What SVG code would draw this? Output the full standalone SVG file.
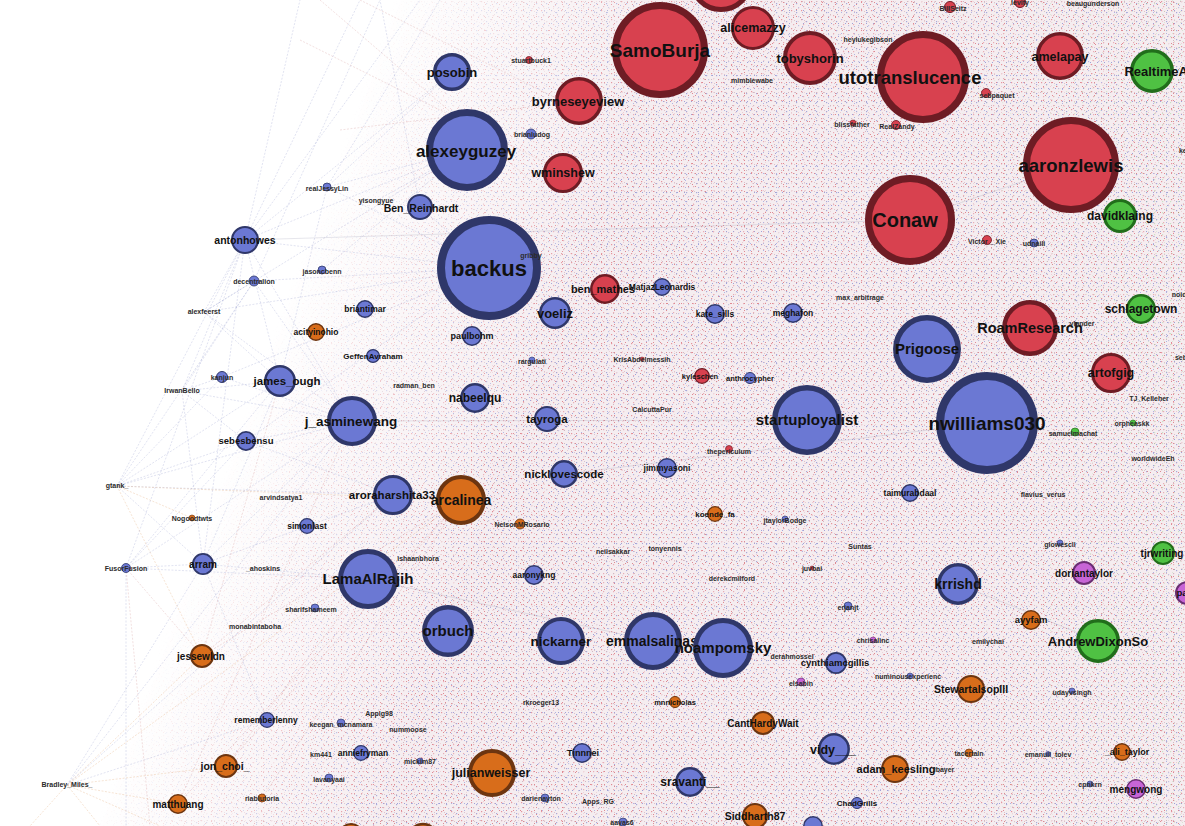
<svg xmlns="http://www.w3.org/2000/svg" width="1185" height="826" viewBox="0 0 1185 826">
<style>
.nb{fill:#6b78d3;stroke:#2f3769}
.nr{fill:#d8414f;stroke:#6e1c24}
.no{fill:#d86d1b;stroke:#6d3510}
.ng{fill:#4fc143;stroke:#216e1b}
.np{fill:#c765d6;stroke:#6b2f73}
text{font-family:"Liberation Sans",Arial,sans-serif;font-weight:bold;text-anchor:middle}
.L{fill:#111}
.s{fill:#2b2b2b;font-size:7px}
.e1{stroke:#8e96cc;stroke-width:0.6;stroke-dasharray:2 1.5;fill:none;opacity:0.45}
.e2{stroke:#d08a8a;stroke-width:0.6;stroke-dasharray:2 1.5;fill:none;opacity:0.45}
.e3{stroke:#e0a470;stroke-width:0.6;stroke-dasharray:2 1.5;fill:none;opacity:0.5}
.e4{stroke:#9a9ab0;stroke-width:0.7;fill:none;opacity:0.35}
.tx{opacity:0.55}
</style>
<defs>
<pattern id="spA" width="10" height="9" patternUnits="userSpaceOnUse">
<rect x="1" y="1" width="1.2" height="1.2" fill="#d8505c"/>
<rect x="6" y="3" width="1.2" height="1.2" fill="#6a72c8"/>
<rect x="3" y="6" width="1.2" height="1.2" fill="#e07a86"/>
<rect x="8" y="7" width="1.2" height="1.2" fill="#9aa0d8"/>
<rect x="4" y="2" width="1" height="1" fill="#c9a0b0"/>
</pattern>
<pattern id="spB" width="7" height="13" patternUnits="userSpaceOnUse">
<rect x="2" y="4" width="1" height="1" fill="#cc3a48"/>
<rect x="5" y="10" width="1" height="1" fill="#5d66c4"/>
<rect x="0" y="8" width="1" height="1" fill="#e3b0b8"/>
<rect x="4" y="1" width="1" height="1" fill="#b58f9e"/>
</pattern>
<pattern id="spC" width="13" height="7" patternUnits="userSpaceOnUse">
<rect x="3" y="2" width="1" height="1" fill="#cc3a48"/>
<rect x="9" y="5" width="1" height="1" fill="#7d86d6"/>
<rect x="11" y="1" width="1" height="1" fill="#e9c0c8"/>
</pattern>
<pattern id="spG" width="8" height="11" patternUnits="userSpaceOnUse">
<rect x="2" y="3" width="1.2" height="1.2" fill="#5cbf50"/>
<rect x="6" y="8" width="1" height="1" fill="#8fd086"/>
<rect x="4" y="0" width="1" height="1" fill="#9ad890"/>
</pattern>
<linearGradient id="gD" gradientUnits="userSpaceOnUse" x1="262" y1="359" x2="516" y2="451">
<stop offset="0" stop-color="#000"/>
<stop offset="0.45" stop-color="#777"/>
<stop offset="1" stop-color="#fff"/>
</linearGradient>
<linearGradient id="gG" gradientUnits="userSpaceOnUse" x1="900" y1="0" x2="1185" y2="0">
<stop offset="0" stop-color="#000"/>
<stop offset="1" stop-color="#888"/>
</linearGradient>
<mask id="mD"><rect width="1185" height="826" fill="url(#gD)"/></mask>
<mask id="mG"><rect width="1185" height="826" fill="url(#gG)"/></mask>
</defs>
<rect width="1185" height="826" fill="#fff"/>
<g id="connectors">
<g mask="url(#mD)">
<rect width="1185" height="826" fill="#f5edf0"/>
<g class="tx">
<rect width="1185" height="826" fill="url(#spA)"/>
<rect width="1185" height="826" fill="url(#spB)"/>
<rect width="1185" height="826" fill="url(#spC)"/>
</g>
</g>
<rect class="tx" width="1185" height="826" fill="url(#spG)" mask="url(#mG)"/>
<path class="e1" d="M245 240L420 0M245 240L360 0M245 240L452 72M245 240L467 150M245 240L489 268M245 240L352 421M245 240L280 381M245 240L203 564M245 240L300 0"/>
<path class="e1" d="M117 486L246 441M117 486L280 381M117 486L352 421M117 486L393 495M117 486L245 240M117 486L203 564M117 486L222 377M117 486L254 281"/>
<path class="e3" d="M117 486L192 518M117 486L461 500M117 486L202 656"/>
<path class="e1" d="M126 568L126 826M126 568L203 564M126 568L246 441M126 568L280 381M126 568L352 421M126 568L245 240M126 568L368 579"/>
<path class="e2" d="M126 568L202 656M126 568L150 826"/>
<path class="e3" d="M67 785L226 766M67 785L202 656M67 785L178 804M67 785L100 826M67 785L160 826M67 785L461 500M67 785L30 826"/>
<path class="e1" d="M67 785L267 720M67 785L352 421M67 785L393 495M67 785L203 564"/>
<path class="e1" d="M182 391L280 381M182 391L222 377M182 391L246 441M182 391L352 421M182 391L245 240M182 391L203 564M182 391L254 281"/>
<path class="e1" d="M204 312L254 281M204 312L280 381M204 312L245 240M204 312L352 421M204 312L467 150M204 312L489 268"/>
<path class="e1" d="M254 281L380 0M254 281L489 268M254 281L352 421M222 377L489 268M222 377L352 421M246 441L352 421M246 441L393 495M246 441L489 268M203 564L352 421M203 564L393 495M203 564L368 579M203 564L280 381M203 564L267 720"/>
<path class="e2" d="M202 656L461 500M202 656L393 495M226 766L461 500M226 766L368 579M178 804L352 421M178 804L461 500M262 798L461 500M202 656L280 381"/>
<path class="e1" d="M322 270L467 150M327 187L452 72M327 187L467 150M327 187L489 268M327 187L280 381M327 187L440 0M376 201L467 150M420 207L380 0M420 207L489 268"/>
<path class="e2" d="M320 0L530 180M360 0L600 120M300 40L560 170M340 130L579 101"/>
<path class="e4" d="M352 421L807 420M564 474L987 423M910 220L1071 165M368 579L653 641M958 584L1098 641M245 240L910 220"/>
</g>
<g id="nodes">
<g id="n-top"><circle class="nr" cx="721" cy="-20" r="29.5" stroke-width="5"/></g>
<g id="n-SamoBurja"><circle class="nr" cx="660" cy="50" r="44.5" stroke-width="7"/><text class="L" x="660" y="57" font-size="19">SamoBurja</text></g>
<g id="n-alicemazzy"><circle class="nr" cx="753" cy="28" r="20.5" stroke-width="3"/><text class="L" x="753" y="32" font-size="12.5">alicemazzy</text></g>
<g id="n-tobyshorin"><circle class="nr" cx="810" cy="58" r="25" stroke-width="4"/><text class="L" x="810" y="63" font-size="13">tobyshorin</text></g>
<g id="n-utotranslucence"><circle class="nr" cx="923" cy="77" r="42.5" stroke-width="7"/><text class="L" x="910" y="84" font-size="18.5">utotranslucence</text></g>
<g id="n-amelapay"><circle class="nr" cx="1060" cy="56" r="22.2" stroke-width="3.5"/><text class="L" x="1060" y="61" font-size="12.5">amelapay</text></g>
<g id="n-RealtimeAI"><circle class="ng" cx="1152" cy="71" r="20.2" stroke-width="3.5"/><text class="L" x="1158" y="76" font-size="13">RealtimeAI</text></g>
<g id="n-aaronzlewis"><circle class="nr" cx="1071" cy="165" r="44.5" stroke-width="7"/><text class="L" x="1071" y="172" font-size="18.5">aaronzlewis</text></g>
<g id="n-Conaw"><circle class="nr" cx="910" cy="220" r="41.5" stroke-width="7"/><text class="L" x="905" y="227" font-size="20">Conaw</text></g>
<g id="n-davidklaing"><circle class="ng" cx="1120" cy="216" r="15.5" stroke-width="3"/><text class="L" x="1120" y="220" font-size="12">davidklaing</text></g>
<g id="n-posobin"><circle class="nb" cx="452" cy="72" r="17.2" stroke-width="3.5"/><text class="L" x="452" y="77" font-size="13">posobin</text></g>
<g id="n-byrneseyeview"><circle class="nr" cx="579" cy="101" r="22.2" stroke-width="3.5"/><text class="L" x="578" y="106" font-size="13">byrneseyeview</text></g>
<g id="n-alexeyguzey"><circle class="nb" cx="467" cy="150" r="37.5" stroke-width="7"/><text class="L" x="466" y="157" font-size="17">alexeyguzey</text></g>
<g id="n-wminshew"><circle class="nr" cx="563" cy="173" r="18.5" stroke-width="3"/><text class="L" x="563" y="177" font-size="12.5">wminshew</text></g>
<g id="n-Ben_Reinhardt"><circle class="nb" cx="420" cy="207" r="12" stroke-width="2"/><text class="L" x="421" y="212" font-size="10.5">Ben_Reinhardt</text></g>
<g id="n-backus"><circle class="nb" cx="489" cy="268" r="48" stroke-width="8"/><text class="L" x="489" y="276" font-size="22">backus</text></g>
<g id="n-antonhowes"><circle class="nb" cx="245" cy="240" r="13" stroke-width="2"/><text class="L" x="245" y="244" font-size="10.5">antonhowes</text></g>
<g id="n-james_ough"><circle class="nb" cx="280" cy="381" r="14.7" stroke-width="2.5"/><text class="L" x="287" y="385" font-size="11.5">james_ough</text></g>
<g id="n-sebesbensu"><circle class="nb" cx="246" cy="441" r="9.1" stroke-width="1.8"/><text class="L" x="246" y="444" font-size="9.5">sebesbensu</text></g>
<g id="n-briantimar"><circle class="nb" cx="365" cy="309" r="8.2" stroke-width="1.5"/><text class="L" x="365" y="312" font-size="8.5">briantimar</text></g>
<g id="n-acityinohio"><circle class="no" cx="316" cy="332" r="8.2" stroke-width="1.5"/><text class="L" x="316" y="335" font-size="8.5">acityinohio</text></g>
<g id="n-GeffenAvraham"><circle class="nb" cx="373" cy="356" r="6.4" stroke-width="1.2"/><text class="L" x="373" y="359" font-size="8">GeffenAvraham</text></g>
<g id="n-paulbohm"><circle class="nb" cx="472" cy="336" r="9.2" stroke-width="1.5"/><text class="L" x="472" y="339" font-size="9">paulbohm</text></g>
<g id="n-voeliz"><circle class="nb" cx="555" cy="313" r="14.7" stroke-width="2.5"/><text class="L" x="555" y="318" font-size="13">voeliz</text></g>
<g id="n-nabeelqu"><circle class="nb" cx="475" cy="398" r="13.7" stroke-width="2.5"/><text class="L" x="475" y="402" font-size="12">nabeelqu</text></g>
<g id="n-j_asminewang"><circle class="nb" cx="352" cy="421" r="23" stroke-width="4"/><text class="L" x="351" y="426" font-size="13.5">j_asminewang</text></g>
<g id="n-tayroga"><circle class="nb" cx="547" cy="419" r="12" stroke-width="2"/><text class="L" x="547" y="423" font-size="11.5">tayroga</text></g>
<g id="n-nicklovescode"><circle class="nb" cx="564" cy="474" r="12.7" stroke-width="2.5"/><text class="L" x="564" y="478" font-size="11.5">nicklovescode</text></g>
<g id="n-aroraharshita33"><circle class="nb" cx="393" cy="495" r="18.5" stroke-width="3"/><text class="L" x="392" y="499" font-size="11.5">aroraharshita33</text></g>
<g id="n-arcalinea"><circle class="no" cx="461" cy="500" r="23" stroke-width="4"/><text class="L" x="461" y="505" font-size="14">arcalinea</text></g>
<g id="n-simonlast"><circle class="nb" cx="307" cy="526" r="7.3" stroke-width="1.3"/><text class="L" x="307" y="529" font-size="8.5">simonlast</text></g>
<g id="n-ben_mathes"><circle class="nr" cx="605" cy="289" r="13.7" stroke-width="2.5"/><text class="L" x="603" y="293" font-size="11">ben_mathes</text></g>
<g id="n-MatjazLeonardis"><circle class="nb" cx="662" cy="287" r="8.2" stroke-width="1.5"/><text class="L" x="662" y="290" font-size="8.5">MatjazLeonardis</text></g>
<g id="n-kate_sills"><circle class="nb" cx="715" cy="314" r="9.2" stroke-width="1.5"/><text class="L" x="715" y="317" font-size="8.5">kate_sills</text></g>
<g id="n-meghafon"><circle class="nb" cx="793" cy="313" r="9.2" stroke-width="1.5"/><text class="L" x="793" y="316" font-size="8.5">meghafon</text></g>
<g id="n-kyleschen"><circle class="nr" cx="702" cy="376" r="7.3" stroke-width="1.3"/><text class="L" x="700" y="379" font-size="7.5">kyleschen</text></g>
<g id="n-anthrocypher"><circle class="nb" cx="750" cy="378" r="5.5" stroke-width="1"/><text class="L" x="750" y="381" font-size="7.5">anthrocypher</text></g>
<g id="n-startuployalist"><circle class="nb" cx="807" cy="420" r="32.2" stroke-width="5.5"/><text class="L" x="807" y="425" font-size="15">startuployalist</text></g>
<g id="n-jimmyasoni"><circle class="nb" cx="667" cy="468" r="9.2" stroke-width="1.5"/><text class="L" x="667" y="471" font-size="8.5">jimmyasoni</text></g>
<g id="n-koende_fa"><circle class="no" cx="715" cy="514" r="7.3" stroke-width="1.3"/><text class="L" x="715" y="517" font-size="8">koende_fa</text></g>
<g id="n-taimurabdaal"><circle class="nb" cx="910" cy="493" r="8.2" stroke-width="1.5"/><text class="L" x="910" y="496" font-size="8.5">taimurabdaal</text></g>
<g id="n-Prigoose"><circle class="nb" cx="927" cy="349" r="31.2" stroke-width="5.5"/><text class="L" x="927" y="354" font-size="15">Prigoose</text></g>
<g id="n-nwilliams030"><circle class="nb" cx="987" cy="423" r="47" stroke-width="8"/><text class="L" x="987" y="430" font-size="19">nwilliams030</text></g>
<g id="n-RoamResearch"><circle class="nr" cx="1030" cy="328" r="25.7" stroke-width="4.5"/><text class="L" x="1030" y="333" font-size="14.5">RoamResearch</text></g>
<g id="n-schlagetown"><circle class="ng" cx="1141" cy="309" r="13.7" stroke-width="2.5"/><text class="L" x="1141" y="313" font-size="12">schlagetown</text></g>
<g id="n-artofgig"><circle class="nr" cx="1111" cy="373" r="18.5" stroke-width="3"/><text class="L" x="1111" y="377" font-size="12.5">artofgig</text></g>
<g id="n-arram"><circle class="nb" cx="203" cy="564" r="10.1" stroke-width="1.8"/><text class="L" x="203" y="568" font-size="10">arram</text></g>
<g id="n-LamaAlRajih"><circle class="nb" cx="368" cy="579" r="27.5" stroke-width="5"/><text class="L" x="368" y="584" font-size="15">LamaAlRajih</text></g>
<g id="n-orbuch"><circle class="nb" cx="448" cy="631" r="23.7" stroke-width="4.5"/><text class="L" x="448" y="636" font-size="15">orbuch</text></g>
<g id="n-aaronykng"><circle class="nb" cx="534" cy="575" r="9.2" stroke-width="1.5"/><text class="L" x="534" y="578" font-size="8.5">aaronykng</text></g>
<g id="n-nickarner"><circle class="nb" cx="561" cy="641" r="22" stroke-width="4"/><text class="L" x="561" y="646" font-size="13.5">nickarner</text></g>
<g id="n-emmalsalinas"><circle class="nb" cx="653" cy="641" r="26.5" stroke-width="5"/><text class="L" x="652" y="646" font-size="14">emmalsalinas</text></g>
<g id="n-noampomsky"><circle class="nb" cx="723" cy="648" r="27.5" stroke-width="5"/><text class="L" x="723" y="653" font-size="15">noampomsky</text></g>
<g id="n-cynthiamcgillis"><circle class="nb" cx="836" cy="663" r="10.1" stroke-width="1.8"/><text class="L" x="835" y="666" font-size="9.5">cynthiamcgillis</text></g>
<g id="n-mnnicholas"><circle class="no" cx="675" cy="702" r="5.5" stroke-width="1"/><text class="L" x="675" y="705" font-size="7.5">mnnicholas</text></g>
<g id="n-CantHardyWait"><circle class="no" cx="763" cy="723" r="11" stroke-width="2"/><text class="L" x="763" y="727" font-size="10">CantHardyWait</text></g>
<g id="n-vidy___"><circle class="nb" cx="834" cy="749" r="14.7" stroke-width="2.5"/><text class="L" x="833" y="754" font-size="12.5">vidy___</text></g>
<g id="n-sravanti__"><circle class="nb" cx="690" cy="782" r="13.7" stroke-width="2.5"/><text class="L" x="690" y="786" font-size="12">sravanti__</text></g>
<g id="n-ChadGrills"><circle class="nb" cx="857" cy="803" r="5.5" stroke-width="1"/><text class="L" x="857" y="806" font-size="8">ChadGrills</text></g>
<g id="n-Siddharth87"><circle class="no" cx="755" cy="816" r="12" stroke-width="2"/><text class="L" x="755" y="820" font-size="10.5">Siddharth87</text></g>
<g id="n-bottomblue"><circle class="nb" cx="813" cy="826" r="9.2" stroke-width="1.5"/></g>
<g id="n-Tinnnei"><circle class="nb" cx="582" cy="753" r="9.2" stroke-width="1.5"/><text class="L" x="583" y="756" font-size="9">Tinnnei</text></g>
<g id="n-julianweisser"><circle class="no" cx="492" cy="773" r="22" stroke-width="4"/><text class="L" x="491" y="777" font-size="12.5">julianweisser</text></g>
<g id="n-rememberlenny"><circle class="nb" cx="267" cy="720" r="7.3" stroke-width="1.3"/><text class="L" x="266" y="723" font-size="8.5">rememberlenny</text></g>
<g id="n-jessewldn"><circle class="no" cx="202" cy="656" r="11" stroke-width="2"/><text class="L" x="201" y="660" font-size="10">jessewldn</text></g>
<g id="n-jon_choi_"><circle class="no" cx="226" cy="766" r="11" stroke-width="2"/><text class="L" x="225" y="770" font-size="10.5">jon_choi_</text></g>
<g id="n-matthuang"><circle class="no" cx="178" cy="804" r="9.2" stroke-width="1.5"/><text class="L" x="178" y="808" font-size="10">matthuang</text></g>
<g id="n-anniefryman"><circle class="nb" cx="361" cy="753" r="7.3" stroke-width="1.3"/><text class="L" x="363" y="756" font-size="8.5">anniefryman</text></g>
<g id="n-krrishd"><circle class="nb" cx="958" cy="584" r="19.2" stroke-width="3.5"/><text class="L" x="958" y="589" font-size="14">krrishd</text></g>
<g id="n-doriantaylor"><circle class="np" cx="1084" cy="573" r="11" stroke-width="2"/><text class="L" x="1084" y="577" font-size="10">doriantaylor</text></g>
<g id="n-tjrwriting"><circle class="ng" cx="1163" cy="553" r="11" stroke-width="2"/><text class="L" x="1162" y="557" font-size="10">tjrwriting</text></g>
<g id="n-pan"><circle class="np" cx="1187" cy="593" r="11" stroke-width="2"/><text class="L" x="1185" y="596" font-size="9.5">pan</text></g>
<g id="n-ayyfam"><circle class="no" cx="1031" cy="620" r="9.2" stroke-width="1.5"/><text class="L" x="1031" y="623" font-size="9.5">ayyfam</text></g>
<g id="n-AndrewDixonSo"><circle class="ng" cx="1098" cy="641" r="20.2" stroke-width="3.5"/><text class="L" x="1098" y="646" font-size="13">AndrewDixonSo</text></g>
<g id="n-StewartalsopIII"><circle class="no" cx="971" cy="689" r="13" stroke-width="2"/><text class="L" x="971" y="693" font-size="10.5">StewartalsopIII</text></g>
<g id="n-_ali_taylor"><circle class="no" cx="1122" cy="752" r="8.2" stroke-width="1.5"/><text class="L" x="1127" y="755" font-size="9">_ali_taylor</text></g>
<g id="n-adam_keesling"><circle class="no" cx="895" cy="769" r="13" stroke-width="2"/><text class="L" x="896" y="773" font-size="11">adam_keesling</text></g>
<g id="n-mengwong"><circle class="np" cx="1136" cy="789" r="9.2" stroke-width="1.5"/><text class="L" x="1136" y="793" font-size="10">mengwong</text></g>
<g id="n-bottomorange1"><circle class="no" cx="351" cy="836" r="12" stroke-width="2"/></g>
<g id="n-bottomorange2"><circle class="no" cx="423" cy="838" r="14" stroke-width="2.5"/></g>
<g id="n-stuartbuck1"><circle class="nr" cx="529" cy="60" r="3.5" stroke-width="0.8"/><text class="s" x="531" y="63">stuartbuck1</text></g>
<g id="n-brianludog"><circle class="nb" cx="531" cy="134" r="5" stroke-width="0.8"/><text class="s" x="532" y="137">brianludog</text></g>
<g id="n-realJessyLin"><circle class="nb" cx="327" cy="187" r="4" stroke-width="0.8"/><text class="s" x="327" y="191">realJessyLin</text></g>
<g id="n-yisongyue"><text class="s" x="376" y="203">yisongyue</text></g>
<g id="n-gribby"><text class="s" x="531" y="258">gribby</text></g>
<g id="n-jasoncbenn"><circle class="nb" cx="322" cy="270" r="4" stroke-width="0.8"/><text class="s" x="322" y="274">jasoncbenn</text></g>
<g id="n-decentralion"><circle class="nb" cx="254" cy="281" r="5" stroke-width="0.8"/><text class="s" x="254" y="284">decentralion</text></g>
<g id="n-alexfeerst"><text class="s" x="204" y="314">alexfeerst</text></g>
<g id="n-kanjun"><circle class="nb" cx="222" cy="377" r="5.5" stroke-width="1"/><text class="s" x="222" y="380">kanjun</text></g>
<g id="n-IrwanBello"><text class="s" x="182" y="393">IrwanBello</text></g>
<g id="n-gtank_"><text class="s" x="117" y="488">gtank_</text></g>
<g id="n-Nogoodtwts"><circle class="no" cx="192" cy="518" r="3" stroke-width="0.6"/><text class="s" x="192" y="521">Nogoodtwts</text></g>
<g id="n-arvindsatya1"><text class="s" x="281" y="500">arvindsatya1</text></g>
<g id="n-rargulati"><circle class="nb" cx="532" cy="360" r="3" stroke-width="0.6"/><text class="s" x="532" y="364">rargulati</text></g>
<g id="n-radman_ben"><text class="s" x="414" y="388">radman_ben</text></g>
<g id="n-NelsonMRosario"><circle class="no" cx="520" cy="524" r="5" stroke-width="0.8"/><text class="s" x="522" y="527">NelsonMRosario</text></g>
<g id="n-KrisAbdelmessih"><circle class="nr" cx="642" cy="359" r="2" stroke-width="0.5"/><text class="s" x="642" y="362">KrisAbdelmessih</text></g>
<g id="n-CalcuttaPur"><text class="s" x="652" y="412">CalcuttaPur</text></g>
<g id="n-max_arbitrage"><text class="s" x="860" y="300">max_arbitrage</text></g>
<g id="n-thepericulum"><circle class="nr" cx="729" cy="449" r="3.5" stroke-width="0.7"/><text class="s" x="729" y="454">thepericulum</text></g>
<g id="n-jtaylorBodge"><circle class="nb" cx="785" cy="519" r="3" stroke-width="0.6"/><text class="s" x="785" y="523">jtaylorBodge</text></g>
<g id="n-mimblewabe"><text class="s" x="752" y="83">mimblewabe</text></g>
<g id="n-heylukegibson"><text class="s" x="868" y="42">heylukegibson</text></g>
<g id="n-BillSeitz"><circle class="nr" cx="950" cy="7" r="5.5" stroke-width="1"/><text class="s" x="953" y="11">BillSeitz</text></g>
<g id="n-levity"><circle class="nr" cx="1020" cy="2" r="5.5" stroke-width="1"/><text class="s" x="1020" y="5">levity</text></g>
<g id="n-beaugunderson"><text class="s" x="1093" y="6">beaugunderson</text></g>
<g id="n-sebpaquet"><circle class="nr" cx="986" cy="93" r="4.5" stroke-width="0.8"/><text class="s" x="997" y="98">sebpaquet</text></g>
<g id="n-blissfather"><circle class="nr" cx="853" cy="123" r="3" stroke-width="0.6"/><text class="s" x="852" y="127">blissfather</text></g>
<g id="n-RealZandy"><circle class="nr" cx="896" cy="125" r="4.5" stroke-width="0.8"/><text class="s" x="897" y="129">RealZandy</text></g>
<g id="n-Victor__Xie"><circle class="nr" cx="987" cy="240" r="4.5" stroke-width="0.8"/><text class="s" x="987" y="244">Victor__Xie</text></g>
<g id="n-udnaili"><circle class="nb" cx="1034" cy="243" r="4" stroke-width="0.8"/><text class="s" x="1034" y="246">udnaili</text></g>
<g id="n-kef"><text class="s" x="1184" y="153">kef</text></g>
<g id="n-noidl"><text class="s" x="1180" y="297">noidl</text></g>
<g id="n-seb"><text class="s" x="1181" y="360">seb</text></g>
<g id="n-vlander"><text class="s" x="1082" y="326">vlander</text></g>
<g id="n-TJ_Kelleher"><text class="s" x="1149" y="401">TJ_Kelleher</text></g>
<g id="n-orpheaskk"><circle class="ng" cx="1133" cy="423" r="3" stroke-width="0.6"/><text class="s" x="1132" y="426">orpheaskk</text></g>
<g id="n-samuelmachat"><circle class="ng" cx="1075" cy="432" r="4" stroke-width="0.7"/><text class="s" x="1073" y="436">samuelmachat</text></g>
<g id="n-worldwideEh"><text class="s" x="1153" y="461">worldwideEh</text></g>
<g id="n-flavius_verus"><text class="s" x="1043" y="497">flavius_verus</text></g>
<g id="n-glowescli"><circle class="nb" cx="1060" cy="543" r="3" stroke-width="0.6"/><text class="s" x="1060" y="547">glowescli</text></g>
<g id="n-FusorFusion"><circle class="nb" cx="126" cy="568" r="4.5" stroke-width="0.8"/><text class="s" x="126" y="571">FusorFusion</text></g>
<g id="n-_ahoskins"><text class="s" x="263" y="571">_ahoskins</text></g>
<g id="n-ishaanbhora"><text class="s" x="418" y="561">ishaanbhora</text></g>
<g id="n-sharifshameem"><circle class="nb" cx="315" cy="608" r="4" stroke-width="0.7"/><text class="s" x="311" y="612">sharifshameem</text></g>
<g id="n-monabintaboha"><text class="s" x="255" y="629">monabintaboha</text></g>
<g id="n-neilsakkar"><text class="s" x="613" y="554">neilsakkar</text></g>
<g id="n-tonyennis"><text class="s" x="665" y="551">tonyennis</text></g>
<g id="n-juvbai"><circle class="nr" cx="812" cy="568" r="2" stroke-width="0.5"/><text class="s" x="812" y="571">juvbai</text></g>
<g id="n-derekcmilford"><text class="s" x="732" y="581">derekcmilford</text></g>
<g id="n-Suntas"><text class="s" x="860" y="549">Suntas</text></g>
<g id="n-erjanjt"><circle class="nb" cx="848" cy="606" r="4" stroke-width="0.7"/><text class="s" x="848" y="610">erjanjt</text></g>
<g id="n-chrisalinc"><circle class="np" cx="873" cy="640" r="3" stroke-width="0.6"/><text class="s" x="873" y="643">chrisalinc</text></g>
<g id="n-derahmossel"><text class="s" x="792" y="659">derahmossel</text></g>
<g id="n-elsabin"><circle class="np" cx="801" cy="682" r="4" stroke-width="0.7"/><text class="s" x="801" y="686">elsabin</text></g>
<g id="n-numinousexperienc"><circle class="nb" cx="910" cy="676" r="3" stroke-width="0.6"/><text class="s" x="908" y="679">numinousexperienc</text></g>
<g id="n-emilychai"><text class="s" x="988" y="644">emilychai</text></g>
<g id="n-udayvsingh"><circle class="nb" cx="1072" cy="691" r="3" stroke-width="0.6"/><text class="s" x="1072" y="695">udayvsingh</text></g>
<g id="n-tacertain"><circle class="no" cx="969" cy="753" r="4" stroke-width="0.7"/><text class="s" x="969" y="756">tacertain</text></g>
<g id="n-emanuil_tolev"><circle class="nb" cx="1048" cy="754" r="2.5" stroke-width="0.5"/><text class="s" x="1048" y="757">emanuil_tolev</text></g>
<g id="n-tbayer"><text class="s" x="944" y="772">ibayer</text></g>
<g id="n-cpnkrn"><circle class="nb" cx="1090" cy="784" r="3" stroke-width="0.6"/><text class="s" x="1090" y="787">cpnkrn</text></g>
<g id="n-rkroeger13"><text class="s" x="541" y="705">rkroeger13</text></g>
<g id="n-Applg98"><text class="s" x="379" y="716">Applg98</text></g>
<g id="n-keegan_mcnamara"><circle class="nb" cx="341" cy="723" r="4" stroke-width="0.7"/><text class="s" x="341" y="727">keegan_mcnamara</text></g>
<g id="n-nummoose"><text class="s" x="408" y="732">nummoose</text></g>
<g id="n-km441"><text class="s" x="321" y="757">km441</text></g>
<g id="n-mickim87"><circle class="nb" cx="420" cy="761" r="3" stroke-width="0.6"/><text class="s" x="420" y="764">mickim87</text></g>
<g id="n-lavanyaai"><circle class="nb" cx="329" cy="778" r="4" stroke-width="0.7"/><text class="s" x="329" y="782">lavanyaai</text></g>
<g id="n-darienayton"><circle class="nb" cx="545" cy="798" r="4" stroke-width="0.7"/><text class="s" x="541" y="801">darienayton</text></g>
<g id="n-Apps_RG"><text class="s" x="598" y="804">Apps_RG</text></g>
<g id="n-aayas6"><circle class="nb" cx="623" cy="822" r="4" stroke-width="0.7"/><text class="s" x="622" y="825">aayas6</text></g>
<g id="n-riabiutoria"><circle class="no" cx="262" cy="798" r="4" stroke-width="0.7"/><text class="s" x="262" y="801">riabiutoria</text></g>
<g id="n-Bradley_Miles_"><text class="s" x="67" y="787">Bradley_Miles_</text></g>
</g>
</svg>
